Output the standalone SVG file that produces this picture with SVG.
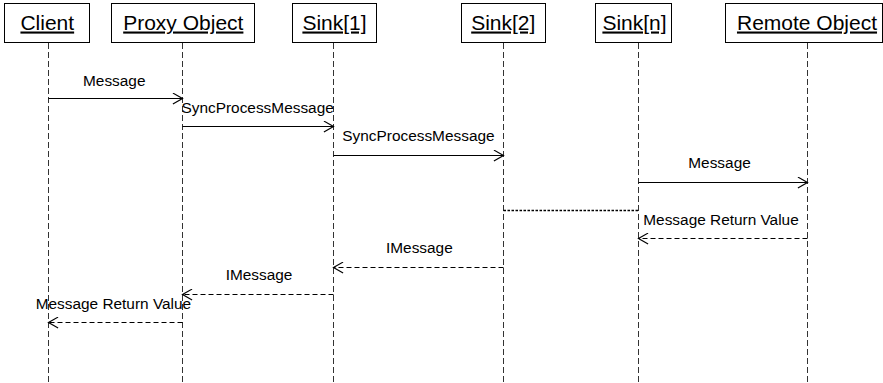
<svg xmlns="http://www.w3.org/2000/svg" width="883" height="383" viewBox="0 0 883 383">
<style>
.box{fill:#fff;stroke:#000;stroke-width:1}
.hd{font-family:"Liberation Sans",Arial,sans-serif;font-size:21px;text-anchor:middle;text-decoration:underline;fill:#000}
.life{stroke:#333;stroke-width:1;stroke-dasharray:6,3;fill:none}
.msg{stroke:#000;stroke-width:1;fill:none;marker-end:url(#ah)}
.ret{stroke:#000;stroke-width:1;fill:none;stroke-dasharray:5,3;marker-end:url(#ah)}
.dot{stroke:#000;stroke-width:1.6;fill:none;stroke-dasharray:2.5,1.5}
.lb{font-family:"Liberation Sans",Arial,sans-serif;font-size:15.4px;fill:#000}
</style>
<defs>
<marker id="ah" markerUnits="userSpaceOnUse" markerWidth="12" markerHeight="12" viewBox="0 0 10 10" refX="9" refY="5" orient="auto">
<path d="M1,0.5 L9,5 L1,9.5" fill="none" stroke="#000" stroke-width="1" stroke-dasharray="none"/>
</marker>
</defs>
<rect width="883" height="383" fill="#fff"/>
<g id="lifelines">
<line class="life" x1="48.5" y1="43" x2="48.5" y2="383"/>
<line class="life" x1="182.5" y1="43" x2="182.5" y2="383"/>
<line class="life" x1="333.5" y1="43" x2="333.5" y2="383"/>
<line class="life" x1="503.5" y1="43" x2="503.5" y2="383"/>
<line class="life" x1="638.5" y1="43" x2="638.5" y2="383"/>
<line class="life" x1="807.5" y1="43" x2="807.5" y2="383"/>
</g>
<g id="client"><rect class="box" x="4.5" y="3.5" width="85" height="39"/><text class="hd" x="47.3" y="29.5">Client</text></g>
<g id="proxy"><rect class="box" x="111.5" y="3.5" width="143" height="39"/><text class="hd" x="183.3" y="29.5">Proxy Object</text></g>
<g id="sink1"><rect class="box" x="292.5" y="3.5" width="84" height="39"/><text class="hd" x="334.5" y="29.5">Sink[1]</text></g>
<g id="sink2"><rect class="box" x="461.5" y="3.5" width="84" height="39"/><text class="hd" x="503.3" y="29.5">Sink[2]</text></g>
<g id="sinkn"><rect class="box" x="595.5" y="3.5" width="76" height="39"/><text class="hd" x="634.5" y="29.5">Sink[n]</text></g>
<g id="remote"><rect class="box" x="725.5" y="3.5" width="157" height="39"/><text class="hd" x="807" y="29.5">Remote Object</text></g>
<g id="connectors">
<line class="msg" x1="48.5" y1="98.5" x2="182.5" y2="98.5"/>
<text class="lb" x="83" y="86">Message</text>
<line class="msg" x1="182.5" y1="126.5" x2="333.5" y2="126.5"/>
<text class="lb" x="181.5" y="112.7">SyncProcessMessage</text>
<line class="msg" x1="333.5" y1="155.5" x2="503.5" y2="155.5"/>
<text class="lb" x="342.3" y="140.7">SyncProcessMessage</text>
<line class="msg" x1="638.5" y1="182.5" x2="807.5" y2="182.5"/>
<text class="lb" x="688.3" y="168.3">Message</text>
<line class="dot" x1="503.5" y1="210.5" x2="638.5" y2="210.5"/>
<line class="ret" x1="807.5" y1="238.5" x2="638.5" y2="238.5"/>
<text class="lb" x="643.3" y="225">Message Return Value</text>
<line class="ret" x1="503.5" y1="267.5" x2="333.5" y2="267.5"/>
<text class="lb" x="386" y="253">IMessage</text>
<line class="ret" x1="333.5" y1="294.5" x2="182.5" y2="294.5"/>
<text class="lb" x="225.7" y="280">IMessage</text>
<line class="ret" x1="182.5" y1="322.5" x2="48.5" y2="322.5"/>
<text class="lb" x="35.7" y="309">Message Return Value</text>
</g>
</svg>
